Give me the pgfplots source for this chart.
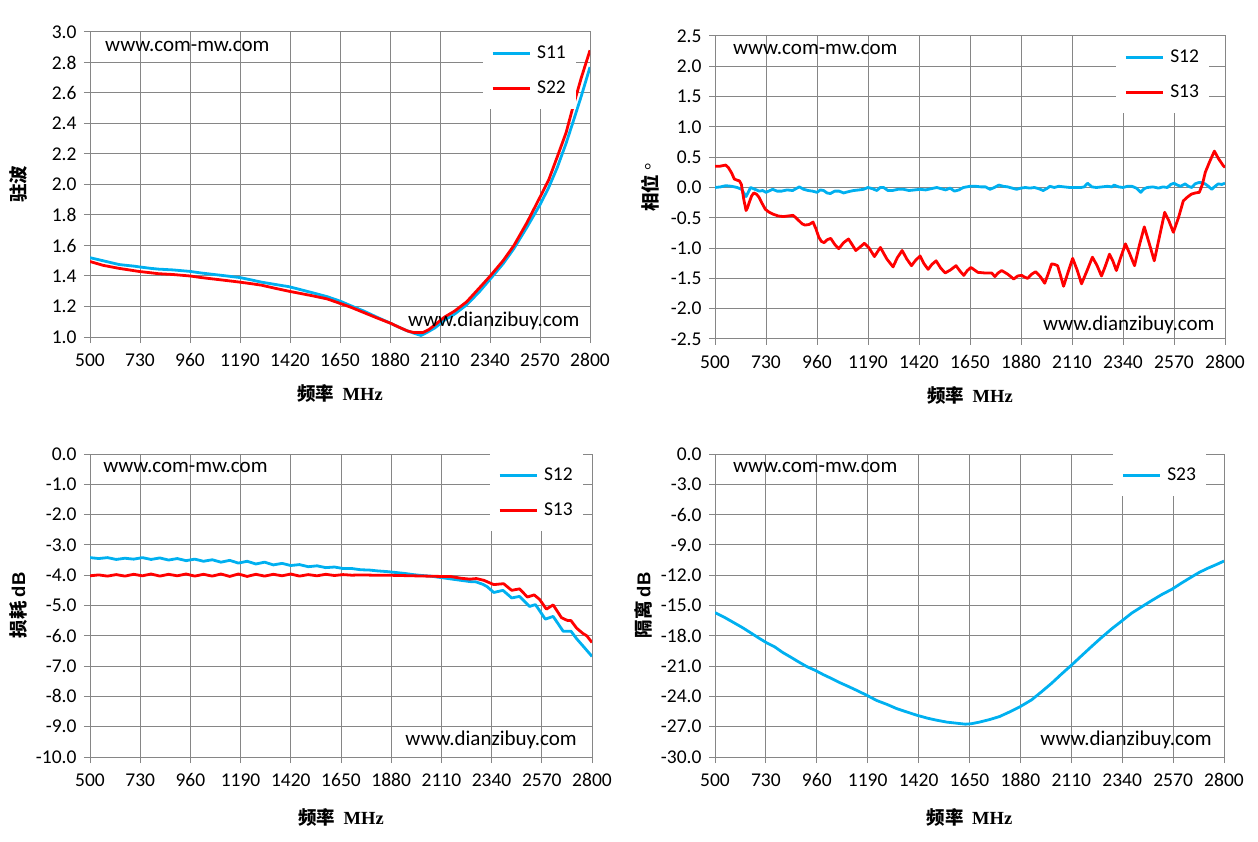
\documentclass[border=0pt]{standalone}
\usepackage{fontspec}
\setmainfont{Carlito}
\newfontfamily\cjk{Noto Sans CJK SC}
\newfontfamily\lserif{Liberation Serif}
\newfontfamily\lsans{Liberation Sans}
\usepackage{pgfplots}
\pgfplotsset{compat=1.18}
\definecolor{gridgray}{RGB}{134,134,134}
\definecolor{sblue}{RGB}{0,176,240}
\definecolor{sred}{RGB}{255,0,0}
\pgfplotsset{
 myaxis/.style={
  scale only axis,
  anchor=north west,
  xmin=500,xmax=2800,
  xtick={500,730,960,1190,1420,1650,1880,2110,2340,2570,2800},
  grid=major,
  major grid style={gridgray,line width=1pt},
  axis line style={gridgray,line width=1pt},
  tick style={gridgray,line width=1pt},
  major tick length=6pt,
  tick align=outside,
  tick pos=left,
  ticklabel style={font=\fontsize{19.5}{22}\selectfont, text=black},
  xticklabel style={yshift=-7pt},
  /pgf/number format/assume math mode=true,
  /pgf/number format/1000 sep={},
  yticklabel style={xshift=-4pt,/pgf/number format/.cd,fixed,fixed zerofill,precision=1},
  label style={font=\fontsize{18.5}{22}\selectfont},
  every axis plot/.append style={line width=2.8pt, line join=round},
  legend cell align=left,
  legend style={draw=none, fill=white, anchor=north east,
    font=\fontsize{19.5}{22}\selectfont, inner xsep=8pt, inner ysep=11pt,
    row sep=15pt, column sep=4pt,
    nodes={inner sep=2pt, text height=13pt, text depth=3pt}},
  legend image code/.code={\draw[##1] (0pt,0pt) -- (37pt,0pt);},
 }
}
\newcommand{\wm}{\fontsize{21}{25}\selectfont}
\pgfplotstableread{
f v
500 1.52
560 1.50
634 1.475
700 1.465
725 1.46
780 1.45
816 1.445
880 1.44
961 1.43
1010 1.42
1070 1.41
1130 1.40
1188 1.39
1240 1.375
1288 1.36
1350 1.345
1415 1.33
1470 1.31
1524 1.29
1590 1.265
1651 1.235
1700 1.205
1760 1.17
1820 1.13
1883 1.09
1920 1.065
1960 1.04
2000 1.02
2023 1.01
2050 1.03
2087 1.06
2130 1.11
2177 1.15
2232 1.21
2290 1.295
2341 1.38
2400 1.48
2450 1.58
2510 1.72
2571 1.87
2610 1.98
2649 2.11
2690 2.27
2722 2.41
2760 2.58
2800 2.77
}\tSeleven
\pgfplotstableread{
f v
500 1.495
560 1.47
634 1.45
725 1.43
816 1.415
880 1.41
961 1.40
1010 1.39
1070 1.38
1130 1.37
1188 1.36
1240 1.35
1288 1.34
1350 1.32
1415 1.30
1470 1.285
1524 1.27
1590 1.25
1651 1.22
1700 1.195
1760 1.16
1820 1.125
1883 1.09
1920 1.065
1960 1.04
1987 1.03
2032 1.03
2060 1.05
2087 1.08
2130 1.13
2177 1.17
2232 1.23
2290 1.32
2341 1.40
2400 1.50
2450 1.60
2510 1.75
2571 1.92
2610 2.03
2649 2.18
2690 2.34
2722 2.51
2760 2.70
2800 2.88
}\tStwotwo
\pgfplotstableread{
f v
500 0.00
525 0.01
548 0.03
575 0.02
600 0.00
620 -0.03
640 -0.15
650 -0.08
660 0.00
680 -0.03
700 -0.06
715 -0.05
730 -0.08
760 -0.03
780 -0.06
800 -0.06
825 -0.04
850 -0.05
880 0.01
900 -0.03
920 -0.05
940 -0.06
960 -0.08
975 -0.04
990 -0.05
1005 -0.09
1020 -0.10
1040 -0.06
1060 -0.06
1080 -0.09
1100 -0.07
1125 -0.05
1150 -0.04
1170 -0.03
1190 0.00
1210 -0.02
1230 -0.05
1245 0.00
1260 0.00
1280 -0.05
1300 -0.05
1325 -0.03
1350 -0.03
1375 -0.05
1400 -0.04
1425 -0.03
1450 -0.04
1475 -0.02
1500 0.00
1520 -0.02
1540 -0.04
1560 -0.01
1580 -0.06
1600 -0.04
1620 0.00
1650 0.02
1675 0.02
1700 0.01
1720 0.01
1740 -0.03
1760 0.00
1780 0.04
1800 0.02
1820 0.01
1840 -0.01
1860 -0.03
1880 -0.01
1900 0.00
1920 -0.01
1940 0.00
1960 -0.02
1980 -0.05
2000 -0.01
2010 0.02
2030 0.00
2050 0.02
2075 0.01
2100 0.00
2125 0.00
2150 0.00
2165 0.01
2180 0.07
2200 0.01
2220 0.00
2245 0.01
2270 0.02
2290 0.01
2300 0.04
2320 0.01
2340 0.00
2360 0.02
2380 0.02
2400 -0.01
2420 -0.08
2435 -0.02
2450 0.00
2475 0.01
2500 -0.01
2520 0.01
2540 0.00
2555 0.05
2570 0.07
2585 0.04
2600 0.02
2620 0.06
2635 0.02
2650 0.00
2665 0.06
2680 0.08
2695 0.08
2710 0.06
2725 0.02
2740 -0.03
2755 0.02
2770 0.06
2785 0.05
2800 0.07
}\tPtwelve
\pgfplotstableread{
f v
500 0.35
520 0.35
548 0.37
560 0.33
575 0.24
587 0.14
600 0.12
610 0.11
619 0.05
630 -0.20
640 -0.38
647 -0.33
654 -0.25
665 -0.14
675 -0.09
687 -0.11
698 -0.16
712 -0.26
727 -0.36
745 -0.41
762 -0.44
785 -0.47
808 -0.48
830 -0.47
852 -0.46
865 -0.50
879 -0.55
893 -0.60
906 -0.62
925 -0.61
942 -0.57
955 -0.68
968 -0.82
980 -0.89
992 -0.91
1007 -0.86
1022 -0.84
1040 -0.94
1058 -1.01
1080 -0.91
1102 -0.85
1118 -0.94
1135 -1.04
1155 -0.98
1174 -0.92
1195 -1.00
1219 -1.14
1233 -1.06
1246 -0.99
1275 -1.18
1303 -1.31
1322 -1.16
1344 -1.04
1365 -1.18
1386 -1.29
1405 -1.20
1425 -1.13
1443 -1.26
1461 -1.35
1478 -1.27
1497 -1.21
1518 -1.33
1538 -1.41
1562 -1.36
1587 -1.29
1605 -1.38
1622 -1.45
1638 -1.37
1654 -1.32
1670 -1.36
1685 -1.40
1715 -1.41
1748 -1.41
1762 -1.47
1777 -1.41
1793 -1.37
1820 -1.43
1847 -1.51
1865 -1.46
1883 -1.45
1897 -1.48
1910 -1.50
1928 -1.43
1946 -1.39
1967 -1.47
1987 -1.58
2003 -1.42
2018 -1.26
2032 -1.27
2045 -1.29
2058 -1.45
2072 -1.63
2092 -1.40
2113 -1.17
2133 -1.36
2153 -1.59
2178 -1.37
2202 -1.15
2222 -1.28
2243 -1.46
2260 -1.30
2279 -1.10
2295 -1.22
2310 -1.37
2330 -1.15
2351 -0.93
2371 -1.10
2392 -1.29
2414 -0.95
2436 -0.65
2458 -0.92
2481 -1.21
2505 -0.80
2528 -0.41
2547 -0.55
2567 -0.74
2590 -0.50
2612 -0.22
2630 -0.16
2648 -0.11
2666 -0.09
2684 -0.08
2698 0.05
2711 0.25
2730 0.42
2752 0.60
2770 0.48
2792 0.36
2800 0.33
}\tPthirteen
\pgfplotstableread{
f v
500 -3.42
540 -3.45
580 -3.42
620 -3.48
660 -3.44
700 -3.47
740 -3.42
780 -3.48
820 -3.43
860 -3.50
900 -3.45
940 -3.52
980 -3.47
1020 -3.54
1060 -3.49
1100 -3.57
1140 -3.51
1180 -3.60
1220 -3.54
1260 -3.63
1300 -3.57
1340 -3.66
1380 -3.61
1420 -3.68
1460 -3.65
1500 -3.72
1540 -3.69
1580 -3.75
1620 -3.73
1660 -3.78
1700 -3.78
1740 -3.82
1780 -3.83
1820 -3.86
1860 -3.88
1900 -3.91
1940 -3.94
1980 -3.98
2020 -4.01
2060 -4.03
2100 -4.07
2150 -4.12
2200 -4.17
2240 -4.21
2268 -4.22
2300 -4.30
2320 -4.38
2350 -4.57
2392 -4.50
2432 -4.75
2468 -4.70
2514 -5.03
2541 -4.97
2586 -5.45
2622 -5.36
2668 -5.85
2704 -5.85
2730 -6.10
2758 -6.33
2800 -6.68
}\tLtwelve
\pgfplotstableread{
f v
500 -4.02
540 -3.99
580 -4.03
620 -3.98
660 -4.03
700 -3.97
740 -4.02
780 -3.96
820 -4.03
860 -3.97
900 -4.02
940 -3.96
980 -4.03
1020 -3.97
1060 -4.03
1100 -3.96
1140 -4.04
1180 -3.96
1220 -4.04
1260 -3.97
1300 -4.03
1340 -3.97
1380 -4.02
1420 -3.96
1460 -4.03
1500 -3.98
1540 -4.02
1580 -3.97
1620 -4.01
1660 -3.98
1700 -4.00
1740 -3.99
1800 -4.00
1860 -4.00
1920 -4.01
1980 -4.02
2040 -4.03
2100 -4.04
2150 -4.04
2200 -4.10
2240 -4.13
2270 -4.11
2305 -4.17
2350 -4.31
2395 -4.28
2432 -4.50
2468 -4.45
2504 -4.72
2535 -4.65
2560 -4.80
2591 -5.12
2622 -4.98
2660 -5.40
2686 -5.49
2704 -5.50
2730 -5.75
2758 -5.92
2776 -6.00
2800 -6.22
}\tLthirteen
\pgfplotstableread{
f v
500 -15.7
545 -16.2
589 -16.75
625 -17.2
661 -17.7
700 -18.25
734 -18.7
770 -19.1
806 -19.65
845 -20.15
879 -20.6
915 -21.05
951 -21.4
990 -21.85
1024 -22.2
1060 -22.6
1096 -22.95
1140 -23.4
1187 -23.9
1230 -24.4
1278 -24.8
1320 -25.2
1368 -25.55
1410 -25.85
1459 -26.15
1500 -26.35
1549 -26.55
1590 -26.65
1631 -26.75
1660 -26.7
1694 -26.55
1740 -26.3
1785 -26.0
1830 -25.55
1876 -25.05
1930 -24.35
1975 -23.55
2021 -22.7
2065 -21.8
2111 -20.9
2155 -20.0
2202 -19.05
2245 -18.2
2293 -17.3
2340 -16.5
2383 -15.75
2430 -15.1
2474 -14.5
2520 -13.9
2564 -13.4
2610 -12.75
2655 -12.15
2690 -11.7
2728 -11.3
2765 -10.95
2800 -10.6
}\tIso
\begin{document}
\begin{tikzpicture}[x=1pt,y=1pt]
\useasboundingbox (0,0) rectangle (1258,-842);
% top left
\begin{axis}[myaxis, at={(90pt,-32pt)}, width=500pt, height=305pt,
  ymin=1, ymax=3, ytick={1,1.2,1.4,1.6,1.8,2,2.2,2.4,2.6,2.8,3},
  ylabel={{\cjk\bfseries 驻波}},
  ylabel style={at={(axis description cs:-0.144,0.5)}, anchor=center},
  xlabel={{\cjk\bfseries 频率}\ \ {\lserif\bfseries MHz}},
  xlabel style={at={(axis description cs:0.5,-0.184)}, anchor=center},
  legend style={at={(axis description cs:0.972,1)}}]
\addplot[sblue] table[x=f,y=v]{\tSeleven};
\addplot[sred] table[x=f,y=v]{\tStwotwo};
\legend{S11,S22}
\node[anchor=west,inner sep=0,font=\wm] at (axis description cs:0.03,0.954) {www.com-mw.com};
\node[anchor=west,inner sep=0,font=\wm] at (axis description cs:0.636,0.052) {www.dianzibuy.com};
\end{axis}
% top right
\begin{axis}[myaxis, at={(715pt,-36pt)}, width=510pt, height=303pt,
  ymin=-2.5, ymax=2.5, ytick={-2.5,-2,-1.5,-1,-0.5,0,0.5,1,1.5,2,2.5},
  ylabel={{\cjk\bfseries 相位}\ {\lserif °}},
  ylabel style={at={(axis description cs:-0.127,0.5)}, anchor=center},
  xlabel={{\cjk\bfseries 频率}\ \ {\lserif\bfseries MHz}},
  xlabel style={at={(axis description cs:0.5,-0.188)}, anchor=center},
  legend style={at={(axis description cs:0.969,1)}}]
\addplot[sblue] table[x=f,y=v]{\tPtwelve};
\addplot[sred] table[x=f,y=v]{\tPthirteen};
\legend{S12,S13}
\node[anchor=west,inner sep=0,font=\wm] at (axis description cs:0.035,0.957) {www.com-mw.com};
\node[anchor=west,inner sep=0,font=\wm] at (axis description cs:0.643,0.046) {www.dianzibuy.com};
\end{axis}
% bottom left
\begin{axis}[myaxis, at={(90pt,-454pt)}, width=502pt, height=303pt,
  ymin=-10, ymax=0, ytick={-10,-9,...,0},
  ylabel={{\cjk\bfseries 损耗}\ {\lsans\bfseries dB}},
  ylabel style={at={(axis description cs:-0.143,0.5)}, anchor=center},
  xlabel={{\cjk\bfseries 频率}\ \ {\lserif\bfseries MHz}},
  xlabel style={at={(axis description cs:0.5,-0.201)}, anchor=center},
  legend style={at={(axis description cs:0.982,1)}}]
\addplot[sblue] table[x=f,y=v]{\tLtwelve};
\addplot[sred] table[x=f,y=v]{\tLthirteen};
\legend{S12,S13}
\node[anchor=west,inner sep=0,font=\wm] at (axis description cs:0.026,0.957) {www.com-mw.com};
\node[anchor=west,inner sep=0,font=\wm] at (axis description cs:0.628,0.056) {www.dianzibuy.com};
\end{axis}
% bottom right
\begin{axis}[myaxis, at={(715pt,-454pt)}, width=509pt, height=303pt,
  ymin=-30, ymax=0, ytick={-30,-27,...,0},
  ylabel={{\cjk\bfseries 隔离}\ {\lsans\bfseries dB}},
  ylabel style={at={(axis description cs:-0.141,0.5)}, anchor=center},
  xlabel={{\cjk\bfseries 频率}\ \ {\lserif\bfseries MHz}},
  xlabel style={at={(axis description cs:0.5,-0.201)}, anchor=center},
  legend style={at={(axis description cs:0.965,1)}}]
\addplot[sblue] table[x=f,y=v]{\tIso};
\legend{S23}
\node[anchor=west,inner sep=0,font=\wm] at (axis description cs:0.035,0.957) {www.com-mw.com};
\node[anchor=west,inner sep=0,font=\wm] at (axis description cs:0.639,0.056) {www.dianzibuy.com};
\end{axis}
\end{tikzpicture}
\end{document}
